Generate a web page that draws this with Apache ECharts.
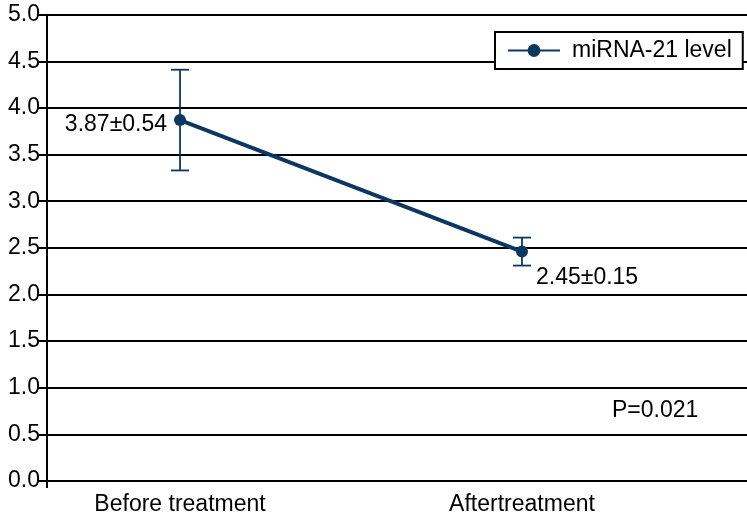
<!DOCTYPE html>
<html>
<head>
<meta charset="utf-8">
<script src="https://cdn.jsdelivr.net/npm/echarts@6/dist/echarts.min.js"></script>
<style>
  html, body { margin: 0; padding: 0; background: #fff; }
  #chart { width: 747px; height: 525px; }
</style>
</head>
<body>
<div id="chart"></div>
<script>
const categories = ["Before treatment", "Aftertreatment"];
const xPos = [1, 2];
const means = [3.87, 2.46];
const errors = [0.54, 0.15];
const pointLabels = ["3.87±0.54", "2.45±0.15"];

const FONT = '"Liberation Sans", Arial, sans-serif';
const NAVY = "#0d3763";
const xMin = 0.611;
const xMax = 2.658;

const chart = echarts.init(document.getElementById("chart"));

const lineData = xPos.map((x, i) => ({
  value: [x, means[i]],
  label: i === 0
    ? { position: "left", distance: 7, offset: [0, 5] }
    : { position: "right", distance: 8, offset: [0, 26] },
}));
const errData = xPos.map((x, i) => [x, means[i] - errors[i], means[i] + errors[i]]);

const option = {
  animation: false,
  grid: { left: 47, right: 0, top: 14.7, bottom: 44, containLabel: false },
  legend: {
    data: ["miRNA-21 level"],
    left: 495,
    top: 32,
    padding: [7, 11, 7, 12],
    itemWidth: 52,
    itemHeight: 16,
    itemGap: 8,
    textStyle: { fontFamily: FONT, fontSize: 23, color: "#000", padding: [0, 0, 0, 7] },
    backgroundColor: "#fff",
    borderColor: "#000",
    borderWidth: 2,
    borderRadius: 0,
  },
  xAxis: {
    type: "value",
    min: xMin,
    max: xMax,
    splitLine: { show: false },
    axisLine: { show: false },
    axisTick: {
      show: true,
      customValues: [xMin],
      length: 7,
      lineStyle: { color: "#000", width: 2 },
    },
    axisLabel: {
      customValues: xPos,
      formatter: (v) => categories[xPos.indexOf(Math.round(v))] || "",
      fontFamily: FONT,
      fontSize: 23,
      color: "#000",
      margin: 12,
    },
  },
  yAxis: {
    type: "value",
    min: 0,
    max: 5,
    interval: 0.5,
    axisLine: { show: true, lineStyle: { color: "#000", width: 2 } },
    axisTick: { show: true, inside: false, length: 9, lineStyle: { color: "#000", width: 2 } },
    splitLine: { show: true, lineStyle: { color: "#000", width: 2 } },
    axisLabel: {
      formatter: (v) => v.toFixed(1),
      fontFamily: FONT,
      fontSize: 23,
      color: "#000",
      margin: 7,
    },
  },
  series: [
    {
      name: "errbar",
      type: "custom",
      z: 3,
      renderItem: (params, api) => {
        const x = api.value(0);
        const lo = api.coord([x, api.value(1)]);
        const hi = api.coord([x, api.value(2)]);
        const hw = 9;
        const style = { stroke: NAVY, lineWidth: 1.8 };
        return {
          type: "group",
          children: [
            { type: "line", shape: { x1: lo[0], y1: lo[1], x2: hi[0], y2: hi[1] }, style },
            { type: "line", shape: { x1: lo[0] - hw, y1: lo[1], x2: lo[0] + hw, y2: lo[1] }, style },
            { type: "line", shape: { x1: hi[0] - hw, y1: hi[1], x2: hi[0] + hw, y2: hi[1] }, style },
          ],
        };
      },
      data: errData,
    },
    {
      name: "miRNA-21 level",
      type: "line",
      z: 4,
      data: lineData,
      symbol: "circle",
      symbolSize: 12,
      lineStyle: { color: NAVY, width: 4 },
      itemStyle: { color: NAVY },
      label: {
        show: true,
        formatter: (p) => pointLabels[p.dataIndex],
        fontFamily: FONT,
        fontSize: 23,
        color: "#000",
      },
    },
  ],
  graphic: [
    {
      type: "text",
      left: 612,
      top: 399,
      style: { text: "P=0.021", font: "23px " + FONT, fill: "#000" },
    },
  ],
};

chart.setOption(option);
</script>
</body>
</html>
